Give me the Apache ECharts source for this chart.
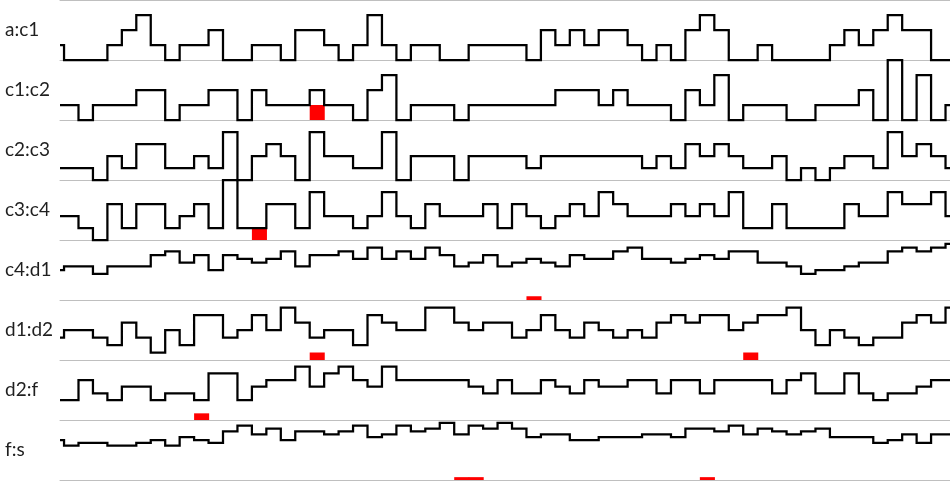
<!DOCTYPE html>
<html>
<head>
<meta charset="utf-8">
<script src="https://cdn.jsdelivr.net/npm/echarts@6/dist/echarts.min.js"></script>
<style>html,body{margin:0;padding:0;background:#fff;}#chart{width:950px;height:488px;}</style>
</head>
<body>
<div id="chart"></div>
<script>
// Row labels
const rowLabels = ['a:c1', 'c1:c2', 'c2:c3', 'c3:c4', 'c4:d1', 'd1:d2', 'd2:f', 'f:s'];

// Step values per row, one value per step (first value is the partial step before step 0)
const aC1 = [1,
  0,0,0,1,2,3,1,0,1,1,
  2,0,0,1,1,0,2,2,1,0,
  1,3,1,0,1,1,0,0,1,1,
  1,1,0,2,1,2,1,2,2,1,
  0,1,0,2,3,2,0,0,1,0,
  0,0,0,1,2,1,2,3,2,2,
  0,0];
const c1C2 = [1,
  1,0,1,1,1,2,2,0,1,1,
  2,2,0,2,1,1,1,2,1,1,
  0,2,3,0,1,1,1,0,1,1,
  1,1,1,1,2,2,2,1,2,1,
  1,1,0,2,1,3,0,1,1,1,
  0,0,1,1,1,2,0,4,0,3,
  0,1];
const c2C3 = [1,
  1,1,0,2,1,3,3,1,1,2,
  1,4,0,2,3,2,0,4,2,2,
  1,1,4,0,2,2,2,0,2,2,
  2,2,1,2,2,2,2,2,2,2,
  1,2,1,3,2,3,2,1,1,2,
  0,1,0,1,2,2,1,4,2,3,
  2,1];
const c3C4 = [2,
  2,1,0,3,1,3,3,1,2,3,
  1,5,1,1,3,3,1,4,2,2,
  1,2,4,2,1,3,2,2,2,3,
  1,3,2,1,2,3,2,4,3,2,
  2,2,3,2,3,2,4,1,1,3,
  1,1,1,1,3,2,2,4,3,3,
  4,2];
const c4D1 = [8,
  9,9,7,9,9,9,12,13,10,12,
  8,12,11,10,11,13,9,12,12,13,
  11,14,11,13,11,14,12,9,10,12,
  9,10,11,10,9,12,11,11,13,14,
  11,11,10,11,12,11,13,13,10,10,
  9,7,8,8,9,10,10,13,14,13,
  14,15];
const d1D2 = [3,
  4,4,3,2,5,3,1,4,2,6,
  6,3,4,6,4,7,5,3,4,4,
  2,6,5,4,4,7,7,5,4,5,
  5,3,4,6,4,3,5,4,3,4,
  3,5,6,5,6,6,4,5,6,6,
  7,4,2,4,3,2,3,3,5,6,
  5,7];
const d2F = [3,
  3,6,4,3,5,5,3,4,4,3,
  7,7,3,5,6,6,8,5,7,8,
  6,5,8,6,6,6,6,6,5,4,
  6,4,4,6,5,4,6,5,5,6,
  6,4,6,6,4,6,6,6,6,4,
  6,7,4,4,7,4,3,4,4,5,
  6,6];
const fS = [14,
  12,13,13,12,12,13,14,12,15,14,
  13,17,19,16,18,14,17,17,16,17,
  19,15,16,19,17,18,20,16,19,18,
  20,18,15,16,16,14,14,15,15,15,
  16,16,15,18,18,17,19,16,18,17,
  16,17,18,15,15,15,13,14,16,13,
  16,16];

// Highlighted (red) steps per row: step indices
const redAC1 = [];
const redC1C2 = [17];
const redC2C3 = [];
const redC3C4 = [13];
const redC4D1 = [32];
const redD1D2 = [17, 47];
const redD2F = [9];
const redFS = [27, 28, 44];

// Y-axis maxima per row
const yMax = [4, 4, 5, 5, 16, 8, 9, 21];

const rows = [aC1, c1C2, c2C3, c3C4, c4D1, d1D2, d2F, fS];
const reds = [redAC1, redC1C2, redC2C3, redC3C4, redC4D1, redD1D2, redD2F, redFS];

const X_MIN = -0.28, X_MAX = 61.31;
const ROW_H = 60;
const GRAY = '#bfbfbf';

const chart = echarts.init(document.getElementById('chart'), null, {renderer: 'canvas'});

const grids = [], xAxes = [], yAxes = [], series = [];
rows.forEach((vals, i) => {
  grids.push({left: 60, width: 890, top: ROW_H * i, height: ROW_H, containLabel: false});
  xAxes.push({
    type: 'value', gridIndex: i, min: X_MIN, max: X_MAX,
    axisLine: {show: true, onZero: false, lineStyle: {color: GRAY, width: 1}},
    axisTick: {show: false}, axisLabel: {show: false}, splitLine: {show: false}
  });
  yAxes.push({
    type: 'value', gridIndex: i, min: 0, max: yMax[i],
    axisLine: {show: false}, axisTick: {show: false}, axisLabel: {show: false}, splitLine: {show: false},
    name: rowLabels[i], nameLocation: 'middle', nameRotate: 0, nameGap: 55,
    nameTextStyle: {align: 'left', verticalAlign: 'middle', fontFamily: 'Lato', fontSize: 19, color: '#1f1f1f'}
  });
  // step line data
  const pts = vals.map((v, k) => [Math.max(k - 1, X_MIN), v]);
  pts.push([X_MAX, vals[vals.length - 1]]);
  series.push({
    type: 'custom', xAxisIndex: i, yAxisIndex: i, z: 1,
    data: reds[i].map(k => [k, 1]),
    renderItem: (params, api) => {
      const p0 = api.coord([api.value(0), 0]);
      const p1 = api.coord([api.value(0) + 1, api.value(1)]);
      return {type: 'rect', shape: {x: p0[0], y: p1[1], width: p1[0] - p0[0] + 0.6, height: p0[1] - p1[1]},
        style: {fill: '#ff0000'}};
    }
  });
  series.push({
    type: 'line', xAxisIndex: i, yAxisIndex: i, step: 'end', data: pts, z: 3,
    showSymbol: false, symbol: 'none', clip: false,
    lineStyle: {color: '#000', width: 2.25, join: 'miter', cap: 'butt'}
  });
});
// top border line of the first row
xAxes.push({
  type: 'value', gridIndex: 0, position: 'top', min: X_MIN, max: X_MAX,
  axisLine: {show: true, onZero: false, lineStyle: {color: GRAY, width: 1}},
  axisTick: {show: false}, axisLabel: {show: false}, splitLine: {show: false}
});

chart.setOption({
  animation: false,
  backgroundColor: '#fff',
  grid: grids, xAxis: xAxes, yAxis: yAxes, series: series
});
</script>
</body>
</html>
